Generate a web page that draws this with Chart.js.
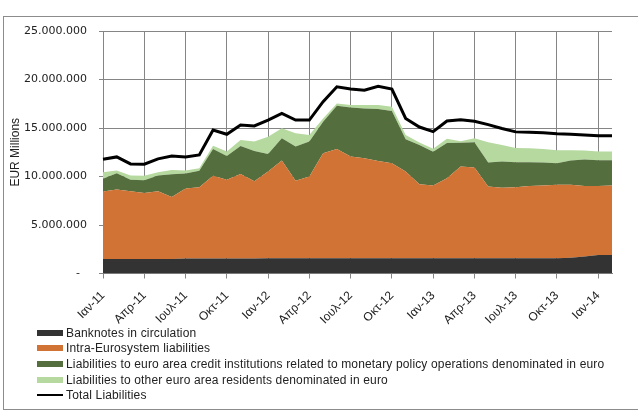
<!DOCTYPE html>
<html lang="el">
<head>
<meta charset="UTF-8">
<title>Liabilities</title>
<script src="https://cdn.jsdelivr.net/npm/chart.js"></script>
<style>
    body { margin: 0; background: #fff; width: 638px; height: 412px; overflow: hidden; position: relative; }
    .frame { position: absolute; left: 3px; top: 16px; width: 650px; height: 392px; border: 1px solid #8c8c8c; }
    #chart { position: absolute; left: 0; top: 0; }
    .legend { position: absolute; left: 37px; top: 325px; font-family: "Liberation Sans", Arial, sans-serif; font-size: 12px; letter-spacing: 0.15px; color: #222; }
    .legend-row { height: 15.6px; display: flex; align-items: center; white-space: nowrap; }
    .sw { width: 26px; height: 6px; margin-right: 3px; }
    .sw.line { height: 2px; }
</style>
</head>
<body>
<div class="frame"></div>
<canvas id="chart" width="638" height="330"></canvas>
<div class="legend" id="legend"></div>

<script>
    // categories (monthly)
    const months = ['Ιαν-11', 'Φεβ-11', 'Μαρ-11', 'Απρ-11', 'Μαϊ-11', 'Ιουν-11', 'Ιουλ-11', 'Αυγ-11', 'Σεπ-11', 'Οκτ-11', 'Νοε-11', 'Δεκ-11',
        'Ιαν-12', 'Φεβ-12', 'Μαρ-12', 'Απρ-12', 'Μαϊ-12', 'Ιουν-12', 'Ιουλ-12', 'Αυγ-12', 'Σεπ-12', 'Οκτ-12', 'Νοε-12', 'Δεκ-12',
        'Ιαν-13', 'Φεβ-13', 'Μαρ-13', 'Απρ-13', 'Μαϊ-13', 'Ιουν-13', 'Ιουλ-13', 'Αυγ-13', 'Σεπ-13', 'Οκτ-13', 'Νοε-13', 'Δεκ-13',
        'Ιαν-14', 'Φεβ-14'];

    // EUR millions
    const banknotes = [1500000, 1500000, 1500000, 1500000, 1500000, 1500000, 1550000, 1550000, 1550000, 1550000, 1550000, 1550000,
        1580000, 1580000, 1580000, 1580000, 1580000, 1580000, 1580000, 1580000, 1580000, 1580000, 1580000, 1580000,
        1580000, 1580000, 1580000, 1580000, 1580000, 1580000, 1580000, 1580000, 1580000, 1580000, 1620000, 1750000,
        1900000, 1920000];
    const intraEurosystem = [6960000, 7160000, 6990000, 6790000, 6990000, 6380000, 7220000, 7350000, 8520000, 8110000, 8720000, 7950000,
        8930000, 10060000, 7970000, 8420000, 10820000, 11260000, 10470000, 10300000, 10030000, 9790000, 8930000, 7630000,
        7500000, 8250000, 9450000, 9340000, 7390000, 7270000, 7320000, 7430000, 7500000, 7560000, 7520000, 7260000,
        7110000, 7160000];
    const creditInstitutions = [1300000, 1680000, 1170000, 1330000, 1610000, 2360000, 1540000, 1680000, 2770000, 2460000, 2880000, 3140000,
        1820000, 2300000, 3530000, 3600000, 3250000, 4450000, 5070000, 5140000, 5340000, 5380000, 3330000, 4040000,
        3470000, 3620000, 2460000, 2610000, 2480000, 2690000, 2570000, 2460000, 2360000, 2230000, 2500000, 2740000,
        2670000, 2600000];
    const otherResidents = [690000, 280000, 440000, 450000, 350000, 440000, 310000, 280000, 340000, 450000, 620000, 960000,
        1780000, 1030000, 1370000, 680000, 340000, 240000, 240000, 340000, 410000, 440000, 440000, 250000,
        320000, 430000, 150000, 410000, 2080000, 1710000, 1480000, 1440000, 1400000, 1340000, 1070000, 920000,
        890000, 890000];
    const totalLiabilities = [11780000, 12020000, 11300000, 11270000, 11820000, 12120000, 12020000, 12230000, 14790000, 14350000, 15310000, 15210000,
        15820000, 16510000, 15820000, 15820000, 17710000, 19250000, 19010000, 18900000, 19300000, 19010000, 15990000, 15100000,
        14620000, 15720000, 15850000, 15700000, 15350000, 14950000, 14600000, 14550000, 14500000, 14400000, 14360000, 14280000,
        14210000, 14210000];

    const gridColor = '#858585';

    function fmt(v) {
        if (v === 0) return '-  ';
        return String(v).replace(/\B(?=(\d{3})+(?!\d))/g, '.');
    }

    function area(label, data, color, fill) {
        return {
            label: label, data: data, backgroundColor: color, borderColor: color,
            borderWidth: 0, pointRadius: 0, fill: fill, tension: 0, order: 1, stack: 'parts'
        };
    }

    const datasets = [
        area('Banknotes in circulation', banknotes, '#333333', 'origin'),
        area('Intra-Eurosystem liabilities', intraEurosystem, '#d07335', '-1'),
        area('Liabilities to euro area credit institutions related to monetary policy operations denominated in euro', creditInstitutions, '#546e3e', '-1'),
        area('Liabilities to other euro area residents denominated in euro', otherResidents, '#b5d99e', '-1'),
        {
            label: 'Total Liabilities', data: totalLiabilities, borderColor: '#000', backgroundColor: '#000',
            borderWidth: 3, pointRadius: 0, fill: false, tension: 0, order: 0, stack: 'total'
        }
    ];

    new Chart(document.getElementById('chart'), {
        type: 'line',
        data: { labels: months, datasets: datasets },
        options: {
            responsive: false,
            animation: false,
            devicePixelRatio: 1,
            layout: { padding: { left: 0, top: 31, right: 26, bottom: 0 } },
            plugins: { legend: { display: false }, tooltip: { enabled: false } },
            scales: {
                x: {
                    offset: false,
                    afterFit: function (scale) { scale.height = 56.5; },
                    grid: {
                        color: function (ctx) { return ctx.index % 3 === 0 ? gridColor : 'rgba(0,0,0,0)'; },
                        tickLength: 5
                    },
                    border: { color: gridColor },
                    ticks: {
                        autoSkip: false, minRotation: 45, maxRotation: 45, padding: 10,
                        color: '#222', font: { family: 'Liberation Sans', size: 12 },
                        callback: function (val, idx) { return idx % 3 === 0 ? this.getLabelForValue(val) : ''; }
                    }
                },
                y: {
                    stacked: true,
                    min: 0, max: 25000000,
                    afterFit: function (scale) { scale.width = 103; },
                    grid: { color: gridColor, tickLength: 4 },
                    border: { color: gridColor },
                    ticks: {
                        stepSize: 5000000, padding: 12, color: '#222',
                        font: { family: 'DejaVu Sans', size: 11 },
                        callback: function (v) { return fmt(v); }
                    },
                    title: {
                        display: true, text: 'EUR Millions', color: '#222',
                        font: { family: 'Liberation Sans', size: 12 },
                        padding: { top: 8, bottom: 0 }
                    }
                }
            }
        }
    });

    // legend, one item per line
    const legend = document.getElementById('legend');
    datasets.forEach(function (ds) {
        const row = document.createElement('div');
        row.className = 'legend-row';
        const sw = document.createElement('span');
        sw.className = ds.stack === 'total' ? 'sw line' : 'sw';
        sw.style.background = ds.stack === 'total' ? ds.borderColor : ds.backgroundColor;
        row.appendChild(sw);
        row.appendChild(document.createTextNode(ds.label));
        legend.appendChild(row);
    });
</script>
</body>
</html>
